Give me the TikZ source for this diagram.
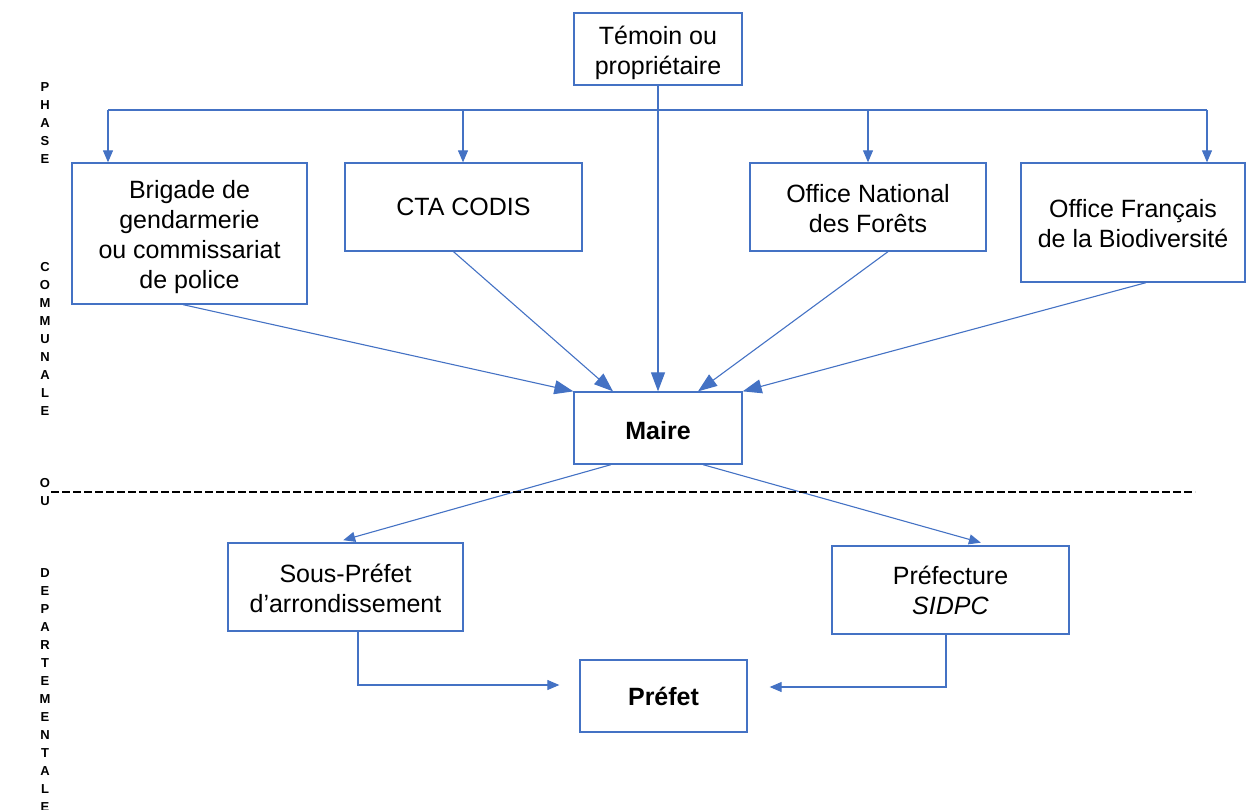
\documentclass[tikz,border=0pt]{standalone}
\usepackage{fontspec}
\setmainfont{Liberation Sans}
\usetikzlibrary{arrows.meta}
\definecolor{lineblue}{HTML}{4472C4}
\newcommand\bxt[2]{\raisebox{-#1}[\height][\depth]{\begin{tabular}{@{}c@{}}#2\end{tabular}}}
\begin{document}
\begin{tikzpicture}[x=1pt,y=-1pt,
  box/.style={draw=lineblue, line width=1.3pt, align=center, inner sep=0pt,
    font=\fontsize{25}{30}\selectfont},
  conn/.style={draw=lineblue, line width=1.1pt},
  arrS/.style={conn, -{Triangle[length=12pt,width=10pt]}},
  arrB/.style={conn, -{Triangle[length=19pt,width=14pt]}},
  letter/.style={inner sep=0pt, font=\fontsize{13}{15}\bfseries\selectfont}]
\useasboundingbox (0,0) rectangle (1246,809);

% boxes
\node[box, minimum width=168pt, minimum height=72pt] (tem) at (658,49) {\bxt{4pt}{Témoin ou\\propriétaire}};
\node[box, minimum width=235pt, minimum height=141pt] (bri) at (189.5,233.5) {\bxt{4pt}{Brigade de\\gendarmerie\\ou commissariat\\de police}};
\node[box, minimum width=237pt, minimum height=88pt] (cta) at (463.5,207) {CTA CODIS};
\node[box, minimum width=236pt, minimum height=88pt] (onf) at (868,207) {\bxt{4.5pt}{Office National\\des Forêts}};
\node[box, minimum width=224pt, minimum height=119pt] (ofb) at (1133,222.5) {\bxt{4pt}{Office Français\\de la Biodiversité}};
\node[box, minimum width=168pt, minimum height=72pt] (mai) at (658,428) {\bxt{5pt}{\textbf{Maire}}};
\node[box, minimum width=235pt, minimum height=88pt] (sou) at (345.5,587) {\bxt{4pt}{Sous-Préfet\\d’arrondissement}};
\node[box, minimum width=237pt, minimum height=88pt] (pre) at (950.5,590) {Préfecture\\\textit{SIDPC}};
\node[box, minimum width=167pt, minimum height=72pt] (pft) at (663.5,696) {\textbf{Préfet}};

% distribution bus
\coordinate (bL) at (108,110);
\coordinate (bR) at (1207,110);
\coordinate (bC) at (463,110);
\coordinate (bO) at (868,110);
\draw[conn] (bL) -- (bR);
\draw[arrS] (bL) -- (bL |- bri.north);
\draw[arrS] (bC) -- (bC |- cta.north);
\draw[arrS] (bO) -- (onf.north);
\draw[arrS] (bR) -- (bR |- ofb.north);

% converging to Maire
\draw[arrB] (tem.south) -- (mai.north);
\draw[arrB] ([xshift=-6.5pt]bri.south) -- (mai.north west);
\draw[arrB] ([xshift=-10pt]cta.south) -- ([xshift=-45pt]mai.north);
\draw[arrB] ([xshift=20pt]onf.south) -- ([xshift=40pt]mai.north);
\draw[arrB] ([xshift=13pt]ofb.south) -- (mai.north east);

% from Maire
\draw[arrS, shorten >=8pt] ([xshift=-47pt]mai.south) -- ([xshift=-10pt]sou.north);
\draw[arrS, shorten >=10pt] ([xshift=45pt]mai.south) -- ([xshift=40pt]pre.north);

% to Préfet
\draw[arrS, shorten >=20pt] ([xshift=12.5pt]sou.south) |- ([yshift=11pt]pft.west);
\draw[arrS, shorten >=22pt] ([xshift=-4.5pt]pre.south) |- ([yshift=9pt]pft.east);

% dashed separator
\coordinate (dL) at (51,492);
\coordinate (dR) at (1195,492);
\draw[line width=2pt, dash pattern=on 8pt off 3pt] (dL) -- (dR);

% vertical side text
\foreach \l [count=\i from 0] in {P,H,A,S,E}
  \node[letter] (pa\i) at (45,{87+18*\i}) {\l};
\foreach \l [count=\i from 0] in {C,O,M,M,U,N,A,L,E}
  \node[letter] (co\i) at (45,{267+18*\i}) {\l};
\foreach \l [count=\i from 0] in {O,U}
  \node[letter] (ou\i) at (45,{483+18*\i}) {\l};
\foreach \l [count=\i from 0] in {D,E,P,A,R,T,E,M,E,N,T,A,L,E}
  \node[letter] (de\i) at (45,{573+18*\i}) {\l};
\end{tikzpicture}
\end{document}
